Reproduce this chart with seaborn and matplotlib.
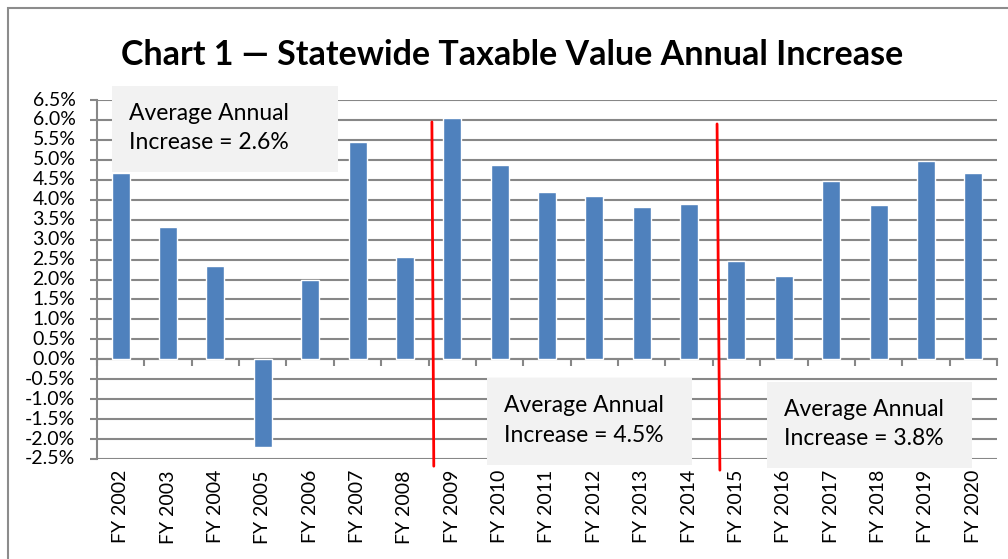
import matplotlib
matplotlib.use("Agg")
import matplotlib.pyplot as plt
import seaborn as sns
import numpy as np
import pandas as pd
from matplotlib.patches import Rectangle
from matplotlib.ticker import FuncFormatter, MultipleLocator

# ---- data ----
fiscal_years = ["FY 2002", "FY 2003", "FY 2004", "FY 2005", "FY 2006", "FY 2007", "FY 2008",
                "FY 2009", "FY 2010", "FY 2011", "FY 2012", "FY 2013", "FY 2014",
                "FY 2015", "FY 2016", "FY 2017", "FY 2018", "FY 2019", "FY 2020"]
annual_increase = [4.67, 3.31, 2.33, -2.20, 1.98, 5.45, 2.56,
                   6.06, 4.87, 4.20, 4.09, 3.81, 3.89,
                   2.46, 2.08, 4.46, 3.87, 4.97, 4.67]
period_labels = ["Average Annual\nIncrease = 2.6%",
                 "Average Annual\nIncrease = 4.5%",
                 "Average Annual\nIncrease = 3.8%"]
title_text = "Chart 1 \u2014 Statewide Taxable Value Annual Increase"

df = pd.DataFrame({"year": fiscal_years, "pct": annual_increase})

sns.set_theme(style="white")
plt.rcParams["font.family"] = ["Lato", "DejaVu Sans"]

W, H = 1008, 559
fig = plt.figure(figsize=(W / 100, H / 100), dpi=100)

def fx(px):
    return px / W

def fy(py):
    return 1 - py / H

ax_left, ax_right, ax_top, ax_bottom = 97, 997, 100, 459
ax = fig.add_axes([fx(ax_left), fy(ax_bottom), fx(ax_right - ax_left), fy(ax_top) - fy(ax_bottom)])

grid_col = "#878787"
sns.barplot(data=df, x="year", y="pct", color="#4F81BD", saturation=1, width=0.38,
            ax=ax, zorder=2)

ax.set_xlim(-0.5, len(fiscal_years) - 0.5)
ax.set_ylim(-2.5, 6.5)
ax.yaxis.set_major_locator(MultipleLocator(0.5))
ax.yaxis.set_major_formatter(FuncFormatter(lambda v, p: f"{v:.1f}%"))
ax.set_axisbelow(True)
ax.yaxis.grid(True, color=grid_col, linewidth=1.5)
ax.xaxis.grid(False)
ax.set_xlabel("")
ax.set_ylabel("")

for s in ["top", "right", "bottom"]:
    ax.spines[s].set_visible(False)
ax.spines["left"].set_color(grid_col)
ax.spines["left"].set_linewidth(1.5)

ax.tick_params(axis="y", direction="out", length=5, width=1.5, color=grid_col,
               pad=10.5, labelsize=14, labelcolor="black", left=True)
ax.tick_params(axis="x", length=0, pad=8, labelsize=14, labelcolor="black")
for lbl in ax.get_xticklabels():
    lbl.set_rotation(90)
    lbl.set_va("top")
for lbl in ax.get_yticklabels():
    lbl.set_va("center")

# x axis line at zero with ticks at category boundaries
zero_loc = (0 - (-2.5)) / 9.0
sec = ax.secondary_xaxis(zero_loc)
sec.set_xticks(np.arange(len(fiscal_years) + 1) - 0.5)
sec.tick_params(axis="x", direction="out", length=5, width=1.5, color=grid_col,
                labelbottom=False, labeltop=False, bottom=True, top=False)
for s in ["top", "left", "right"]:
    sec.spines[s].set_visible(False)
sec.spines["bottom"].set_color(grid_col)
sec.spines["bottom"].set_linewidth(1.5)

# red period dividers (hand drawn)
ax.plot([6.57, 6.61], [5.95, -2.68], color="#ff0000", linewidth=2, clip_on=False, zorder=4)
ax.plot([12.59, 12.65], [5.9, -2.78], color="#ff0000", linewidth=2, clip_on=False, zorder=4)

# chart frame
fig.patches.append(Rectangle((fx(8), fy(575)), fx(1020), fy(8) - fy(575),
                             transform=fig.transFigure, facecolor="none",
                             edgecolor="#8c8c8c", linewidth=1.5, zorder=0))

# title
fig.text(fx(512), fy(55), title_text, ha="center", va="center",
         fontsize=24.5, fontweight="bold", color="black")

# annotation boxes
boxes = [(112, 86, 338, 172), (487, 378, 692, 465), (767, 382, 972, 468)]
for (x0, y0, x1, y1), txt in zip(boxes, period_labels):
    fig.patches.append(Rectangle((fx(x0), fy(y1)), fx(x1 - x0), fy(y0) - fy(y1),
                                 transform=fig.transFigure, facecolor="#f2f2f2",
                                 edgecolor="none", zorder=1))
    fig.text(fx(x0 + 17), fy((y0 + y1) / 2 - 1), txt, ha="left", va="center",
             fontsize=16.5, color="black", linespacing=1.5, zorder=3)

fig.savefig("out.png", dpi=100)
